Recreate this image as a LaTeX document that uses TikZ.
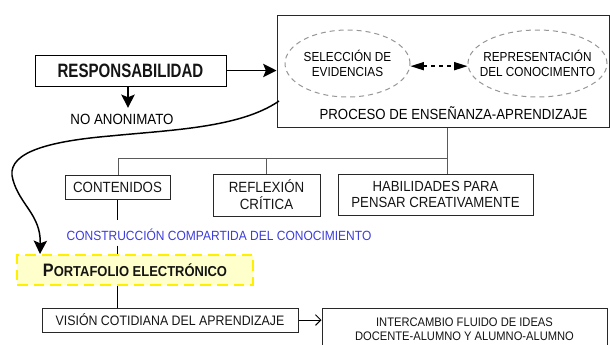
\documentclass[tikz,border=0pt]{standalone}
\usepackage{fontspec}
\setmainfont[FakeStretch=0.9]{Liberation Sans}
\newfontfamily\narrowfont[FakeStretch=0.78]{Liberation Sans}
\usetikzlibrary{arrows.meta,shapes.geometric}

\tikzset{every picture/.style={line width=0.75pt}}
\tikzset{
  boxst/.style={draw={rgb, 255:red, 40; green, 40; blue, 40 }, inner sep=0pt, align=center, text={rgb, 255:red, 20; green, 20; blue, 20 }},
  oval/.style={ellipse, draw={rgb, 255:red, 150; green, 150; blue, 150 }, dash pattern=on 3.75pt off 3pt, inner sep=0pt},
  tree/.style={draw={rgb, 255:red, 90; green, 90; blue, 90 }, line width=0.75pt},
  heavy/.style={line width=1.1pt},
  bigtip/.style={-{Stealth[length=10pt, width=10pt, inset=2pt]}, line width=1.1pt},
  smallfont/.style={font=\fontsize{9.8}{11.25}\selectfont},
  midfont/.style={font=\fontsize{11.1}{12.5}\selectfont}
}

\begin{document}
\begin{tikzpicture}[x=0.75pt,y=0.75pt,yscale=-1,xscale=1]
\useasboundingbox (0,0) rectangle (610,344);

%Shape: Rectangle
\node[boxst, draw=black, minimum width=143.25pt, minimum height=23.25pt, font=\narrowfont\bfseries\fontsize{14.5}{17}\selectfont] (resp) at (130.5,70.5) {RESPONSABILIDAD};
% Text Node
\node[midfont, inner ysep=4pt] (noanon) at (122,119) {NO ANONIMATO};

%Shape: Rectangle
\node[boxst, minimum width=249pt, minimum height=84pt] (proceso) at (443,71) {};
% Text Node
\node[font=\fontsize{11}{12}\selectfont] (ptxt) at (453.5,113) {PROCESO DE ENSEÑANZA-APRENDIZAJE};

%Shape: Ellipse
\node[oval, minimum width=93.75pt, minimum height=50.25pt] (sel) at (347.5,63.5) {};
\node[smallfont, align=center] (seltxt) at (sel) {SELECCIÓN DE\\EVIDENCIAS};
%Shape: Ellipse
\node[oval, minimum width=104.25pt, minimum height=50.25pt] (rep) at (537.5,63.5) {};
\node[smallfont, align=center] (reptxt) at (rep) {REPRESENTACIÓN\\DEL CONOCIMENTO};

%Shape: Rectangle
\node[boxst, minimum width=78.75pt, minimum height=18pt, midfont] (cont) at (117.5,187) {CONTENIDOS};
\node[boxst, minimum width=80.25pt, minimum height=31.5pt, font=\fontsize{11.1}{12.75}\selectfont] (refl) at (266.5,195) {REFLEXIÓN\\CRÍTICA};
\node[boxst, minimum width=146.25pt, minimum height=30.75pt, font=\fontsize{11}{12}\selectfont] (hab) at (435.5,194.5) {HABILIDADES PARA\\PENSAR CREATIVAMENTE};

% Text Node
\node[anchor=base, inner sep=0pt, text height=14.6pt, text depth=3.75pt, text={rgb, 255:red, 60; green, 60; blue, 220 }, font=\fontsize{10}{11}\selectfont] (constr) at (219,240) {CONSTRUCCIÓN COMPARTIDA DEL CONOCIMIENTO};

%Shape: Rectangle
\node[boxst, draw={rgb, 255:red, 255; green, 240; blue, 0 }, line width=1.5pt, dash pattern=on 8pt off 4.5pt, fill={rgb, 255:red, 255; green, 255; blue, 204 }, minimum width=177pt, minimum height=22.5pt, font=\bfseries] (porta) at (135,270) {{\fontsize{13.5}{14}\selectfont P}{\fontsize{10.8}{12}\selectfont ORTAFOLIO ELECTRÓNICO}};

%Shape: Rectangle
\node[boxst, minimum width=192pt, minimum height=18pt, font=\fontsize{10.3}{11}\selectfont] (vision) at (170,320) {VISIÓN COTIDIANA DEL APRENDIZAJE};
\node[boxst, minimum width=213.75pt, minimum height=31.5pt, font=\fontsize{9.3}{10.5}\selectfont] (inter) at (464.5,329) {INTERCAMBIO FLUIDO DE IDEAS\\DOCENTE-ALUMNO Y ALUMNO-ALUMNO};

%Straight Lines
\draw[bigtip] (resp.east) -- (resp.east -| proceso.west);
\draw[bigtip] (resp.south -| 128,0) -- (noanon.north -| 128,0);
\draw[line width=1.1pt, dash pattern=on 3pt off 3pt, {Triangle[length=10pt, width=6pt]}-{Triangle[length=10pt, width=6pt]}] ([yshift=2pt]sel.east) -- ([yshift=2pt]rep.west);

%Straight Lines
\coordinate (j1) at (118,158);
\coordinate (j3) at (447,158);
\draw[tree] (proceso.south -| j3) -- (j3) -- (j1) -- (j1 |- cont.north);
\draw[tree] (refl.north |- j1) -- (refl.north);
\draw[tree] (j3) -- (j3 |- hab.north);

%Straight Lines
\draw[heavy] (cont.south) -- (cont.south |- constr.north);
\draw[heavy] (cont.south |- constr.south) -- (cont.south |- porta.north);
\draw[heavy] (cont.south |- porta.south) -- (cont.south |- vision.north);
\draw[-{Straight Barb[length=4pt, width=8pt]}] (vision.east) -- (vision.east -| inter.west);

%Curve Lines
\coordinate (c0) at (279,101);
\coordinate (c1) at (40,254);
\draw[bigtip] (c0) .. controls (240,128) and (170,130) .. (110,136) .. controls (40,142) and (5,155) .. (13,180) .. controls (20,205) and (41,215) .. (c1);

\end{tikzpicture}
\end{document}
